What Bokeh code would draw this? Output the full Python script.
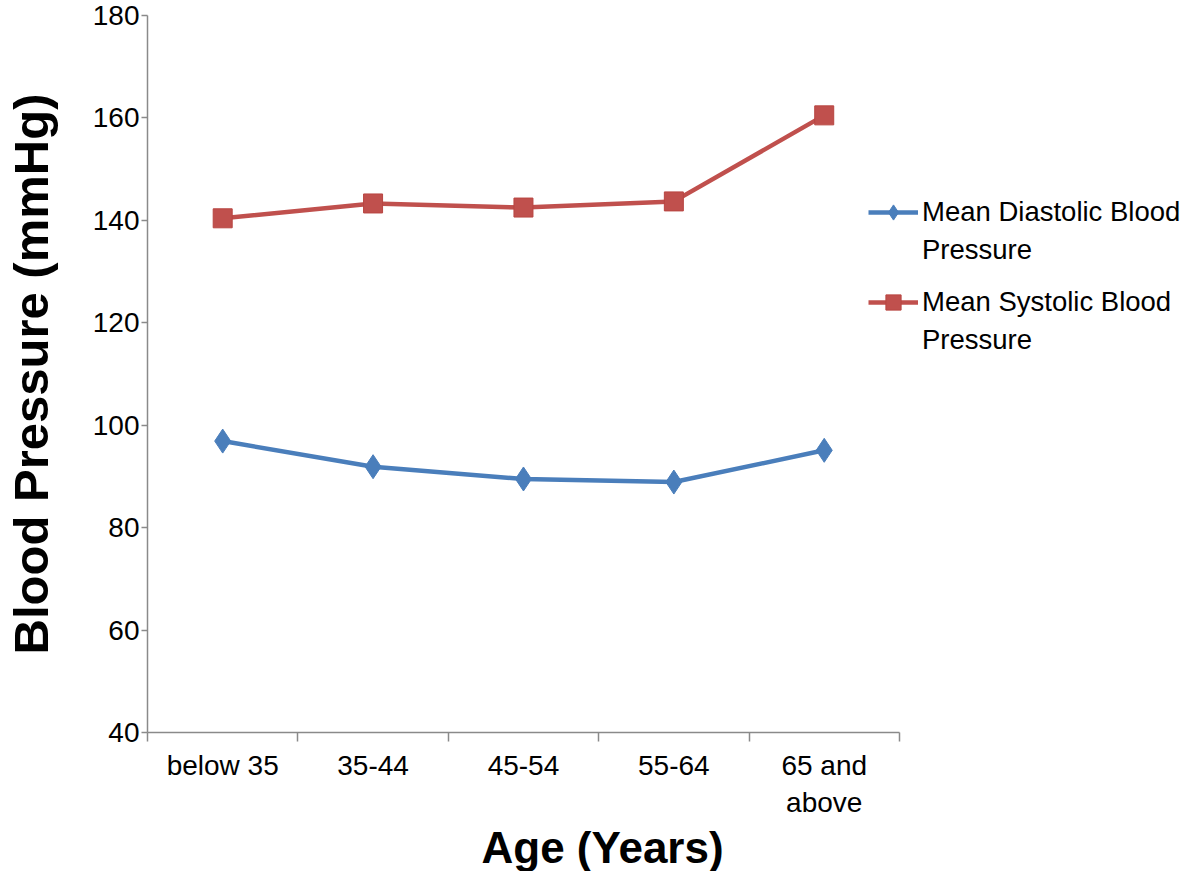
from bokeh.plotting import figure
from bokeh.models import FixedTicker, Legend, LegendItem, Range1d, Title
from bokeh.embed import file_html
from bokeh.resources import INLINE

categories = ["below 35", "35-44", "45-54", "55-64", "65 and\nabove"]
diastolic = [96.9, 91.9, 89.5, 88.9, 95.1]
systolic = [140.4, 143.3, 142.5, 143.7, 160.5]
y_ticks = [40, 60, 80, 100, 120, 140, 160, 180]
series_names = [["Mean Diastolic Blood", "Pressure"], ["Mean Systolic Blood", "Pressure"]]

n = len(categories)
xs = [i + 0.5 for i in range(n)]
FONT = "Liberation Sans"
AXIS_COL = "#8a8a8a"
BLUE, RED = "#4a7ebb", "#c0504d"

W, H = 1184, 871
LEFT, TOP, BOTTOM = 140, 15, 135
AXIS_PX = 757  # pixel length of the category axis
x_end = n * (W - LEFT) / AXIS_PX

p = figure(width=W, height=H, output_backend="svg", toolbar_location=None,
           x_range=Range1d(0, x_end), y_range=Range1d(40, 180),
           min_border_left=LEFT, min_border_right=0, min_border_top=TOP, min_border_bottom=BOTTOM)
p.outline_line_color = None
p.grid.visible = False
p.background_fill_color = "white"
p.border_fill_color = "white"

bl = p.line(xs, diastolic, line_color=BLUE, line_width=4.5)
bm = p.scatter(xs, diastolic, marker="diamond", size=24, fill_color=BLUE, line_color=BLUE)
rl = p.line(xs, systolic, line_color=RED, line_width=4.5)
rm = p.scatter(xs, systolic, marker="square", size=19, fill_color=RED, line_color="#b84541")
blank = p.line([], [], line_alpha=0)

# x axis
p.xaxis.bounds = (0, n)
p.xaxis.ticker = FixedTicker(ticks=xs, minor_ticks=list(range(n + 1)))
p.xaxis.major_label_overrides = {x: c for x, c in zip(xs, categories)}
p.xaxis.major_tick_out = 0
p.xaxis.major_tick_in = 0
p.xaxis.minor_tick_out = 9
p.xaxis.minor_tick_in = 0
p.xaxis.minor_tick_line_color = AXIS_COL
p.xaxis.minor_tick_line_width = 1.5
p.xaxis.axis_line_color = AXIS_COL
p.xaxis.axis_line_width = 1.5
p.xaxis.major_label_text_font = FONT
p.xaxis.major_label_text_font_size = "28px"
p.xaxis.major_label_text_color = "black"
p.xaxis.major_label_standoff = 8

xtitle = Title(text="Age (Years)", align="left", offset=334, standoff=0,
               text_font=FONT, text_font_size="44px", text_font_style="bold",
               text_color="black")
p.add_layout(xtitle, "below")

# y axis
p.yaxis.ticker = FixedTicker(ticks=y_ticks)
p.yaxis.minor_tick_line_color = None
p.yaxis.major_tick_out = 6
p.yaxis.major_tick_in = 0
p.yaxis.major_tick_line_color = AXIS_COL
p.yaxis.major_tick_line_width = 1.5
p.yaxis.axis_line_color = AXIS_COL
p.yaxis.axis_line_width = 1.5
p.yaxis.major_label_text_font = FONT
p.yaxis.major_label_text_font_size = "28px"
p.yaxis.major_label_text_color = "black"
p.yaxis.major_label_standoff = 2
p.yaxis.axis_label = "Blood Pressure (mmHg)"
p.yaxis.axis_label_text_font = FONT
p.yaxis.axis_label_text_font_size = "49px"
p.yaxis.axis_label_text_font_style = "bold"
p.yaxis.axis_label_text_color = "black"
p.yaxis.axis_label_standoff = 32

frame_h = H - TOP - BOTTOM
row_h = 38
for (first, second), (gl, gm), top_px in zip(series_names, [(bl, bm), (rl, rm)], [197, 287]):
    lg = Legend(items=[
        LegendItem(label=first, renderers=[gl, gm]),
        LegendItem(label=second, renderers=[blank]),
    ], location=(721, frame_h - (top_px - TOP) - 2 * row_h))
    lg.label_text_font = FONT
    lg.label_text_font_size = "27.5px"
    lg.label_text_color = "black"
    lg.glyph_width = 50
    lg.glyph_height = row_h
    lg.label_height = row_h
    lg.label_standoff = 4
    lg.spacing = 0
    lg.padding = 0
    lg.margin = 0
    lg.border_line_color = None
    lg.background_fill_alpha = 0
    p.add_layout(lg)

open("out.html", "w").write(file_html(p, INLINE))
